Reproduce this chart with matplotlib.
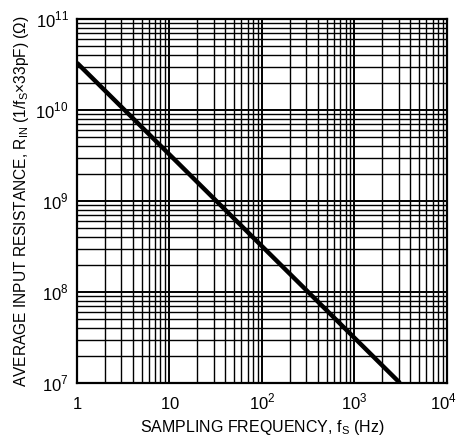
import numpy as np
import matplotlib
matplotlib.use('Agg')
import matplotlib.pyplot as plt
import matplotlib.transforms as mtransforms
from matplotlib.ticker import FixedLocator, FixedFormatter, LogLocator, NullFormatter

plt.rcParams['font.family'] = ['Liberation Sans', 'DejaVu Sans']
plt.rcParams['mathtext.fontset'] = 'custom'
plt.rcParams['mathtext.rm'] = 'Liberation Sans'

# line end points
fs = [1, 3100]
r_in = [3.3e10, 1.0e7]

x_ticks = [1, 10, 100, 1000, 10000]
x_labels = ['$\\mathrm{1}$', '$\\mathrm{10}$', '$10^2$', '$10^3$', '$10^4$']
y_ticks = [1e7, 1e8, 1e9, 1e10, 1e11]
y_labels = ['$10^7$', '$10^8$', '$10^9$', '$10^{10}$', '$10^{11}$']

fig = plt.figure(figsize=(4.58, 4.38), dpi=100)
ax = fig.add_axes([0.168, 0.1256, 0.808, 0.831])

ax.set_xscale('log')
ax.set_yscale('log')
ax.set_xlim(1, 1e4)
ax.set_ylim(1e7, 1e11)

ax.plot(fs, r_in, color='black', lw=3.2, solid_capstyle='butt')

ax.xaxis.set_major_locator(FixedLocator(x_ticks))
ax.xaxis.set_major_formatter(FixedFormatter(x_labels))
ax.yaxis.set_major_locator(FixedLocator(y_ticks))
ax.yaxis.set_major_formatter(FixedFormatter(y_labels))
ax.xaxis.set_minor_locator(LogLocator(base=10, subs=np.arange(2, 10)))
ax.yaxis.set_minor_locator(LogLocator(base=10, subs=np.arange(2, 10)))
ax.xaxis.set_minor_formatter(NullFormatter())
ax.yaxis.set_minor_formatter(NullFormatter())

ax.grid(which='major', color='black', lw=1.4)
ax.grid(which='minor', color='black', lw=1.0)
ax.tick_params(which='both', length=0, labelsize=12, colors='black')
ax.tick_params(axis='x', pad=19)
ax.tick_params(axis='y', pad=6)
for s in ax.spines.values():
    s.set_linewidth(1.6)
    s.set_color('black')

# baseline-align x labels so plain and powered labels sit on one line
for lab in ax.get_xticklabels():
    lab.set_verticalalignment('baseline')
# nudge the last x label so it stays inside the figure
last = ax.get_xticklabels()[-1]
last.set_transform(last.get_transform() +
                   mtransforms.ScaledTranslation(-4 / 100, 0, fig.dpi_scale_trans))

ax.set_xlabel('SAMPLING FREQUENCY, f$_\\mathrm{S}$ (Hz)', fontsize=11.5, labelpad=4)
ax.set_ylabel('AVERAGE INPUT RESISTANCE, R$_\\mathrm{IN}$ (1/f$_\\mathrm{S}$\u00d733pF) (\u03a9)',
              fontsize=11.2, labelpad=3)

fig.savefig('out.png', dpi=100)
